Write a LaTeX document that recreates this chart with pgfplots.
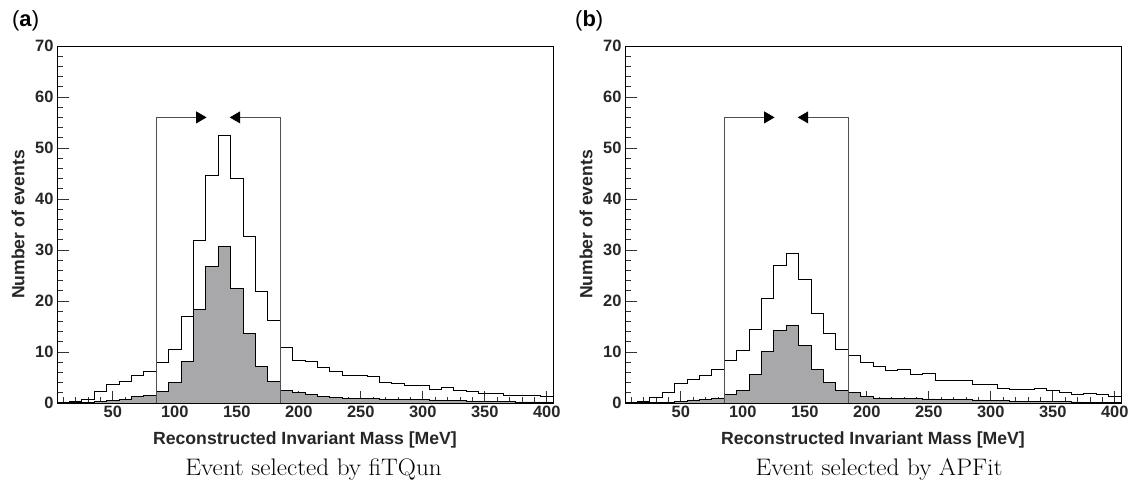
\documentclass[border=0pt]{standalone}
\usepackage{pgfplots}
\pgfplotsset{compat=1.18}
\usepackage{pgfplotstable}
\usepackage{fontspec}
\usetikzlibrary{arrows.meta}
\newfontfamily\arial{Liberation Sans}
\definecolor{histgray}{RGB}{168,168,170}
\definecolor{boxgray}{RGB}{80,80,80}

\pgfplotstableread{
x open filled
5 0.2 0.05
15 0.3 0.1
25 0.7 0.15
35 2.2 0.25
45 3.7 0.45
55 4.2 0.7
65 5.4 1.2
75 6.1 1.5
85 8.0 2.2
95 10.5 4.0
105 16.9 8.1
115 31.8 18.4
125 44.6 26.8
135 52.5 30.7
145 44.1 22.5
155 32.7 13.7
165 21.8 7.1
175 16.1 4.2
185 11.0 2.5
195 8.4 2.0
205 8.2 1.7
215 7.0 1.2
225 6.1 1.1
235 5.5 0.9
245 5.4 0.95
255 5.2 0.85
265 4.1 0.65
275 3.9 0.7
285 3.5 0.75
295 3.5 0.7
305 2.7 0.6
315 3.1 0.5
325 2.5 0.45
335 2.2 0.4
345 1.9 0.4
355 1.8 0.25
365 1.5 0.25
375 1.5 0.2
385 1.4 0.2
395 1.2 0.2
405 1.2 0.2
}\dataA

\pgfplotstableread{
x open filled
5 0.1 0.05
15 0.4 0.05
25 1.1 0.1
35 2.1 0.1
45 3.9 0.3
55 4.6 0.6
65 5.5 0.7
75 6.5 1.0
85 8.4 1.7
95 10.3 2.5
105 14.4 5.6
115 20.5 10.1
125 26.9 14.2
135 29.3 15.2
145 24.3 11.2
155 17.6 6.5
165 13.6 4.1
175 10.6 2.4
185 9.3 2.0
195 8.0 1.3
205 7.1 1.0
215 6.4 0.9
225 6.6 0.85
235 5.7 0.85
245 5.9 0.8
255 4.5 0.7
265 4.4 0.7
275 4.4 0.7
285 3.7 0.6
295 3.7 0.5
305 2.9 0.45
315 2.7 0.4
325 2.7 0.3
335 2.8 0.3
345 2.55 0.25
355 2.1 0.25
365 1.6 0.2
375 1.8 0.15
385 1.6 0.15
395 1.2 0.15
405 1.2 0.15
}\dataB

\pgfplotsset{
  histaxis/.style={
    scale only axis,
    width=496bp, height=357bp,
    xmin=5, xmax=405, ymin=0, ymax=70,
    xtick={50,100,...,400},
    ytick={0,10,...,70},
    minor xtick={10,20,...,400},
    minor y tick num=4,
    tick align=inside,
    xtick pos=left, ytick pos=left,
    major tick length=12bp,
    minor tick length=6bp,
    axis line style={line width=0.8bp, black},
    tick style={line width=0.8bp, black!80},
    /pgf/number format/assume math mode=true,
    tick label style={font=\arial\bfseries\fontsize{16.5}{18}\selectfont, text=black!85},
    xlabel={Reconstructed Invariant Mass [MeV]},
    ylabel={Number of events},
    every axis x label/.style={at={(axis description cs:0.5,-0.116)}, anchor=base,
      font=\arial\bfseries\fontsize{17.7}{19}\selectfont, text=black!85},
    every axis y label/.style={at={(axis description cs:-0.0786,0.5)}, anchor=center, rotate=90,
      font=\arial\bfseries\fontsize{17.7}{19}\selectfont, text=black!85},
    clip=false,
  },
  boxline/.style={boxgray, line width=0.8bp, -{Triangle[length=10.5bp,width=12bp,color=black]}},
}

\begin{document}
\begin{tikzpicture}
\useasboundingbox (0bp,-82bp) rectangle (1135bp,403bp);

\begin{axis}[histaxis, at={(57bp,0bp)}, anchor=south west]
  \addplot[const plot mark left, fill=histgray, draw=black, line width=0.8bp] table[x=x,y=filled]{\dataA} \closedcycle;
  \addplot[const plot mark left, draw=black, line width=0.8bp] table[x=x,y=open]{\dataA};
  \addplot[boxline] coordinates {(85,0) (85,56) (125.6,56)};
  \addplot[boxline] coordinates {(185,0) (185,56) (144.3,56)};
\end{axis}

\begin{axis}[histaxis, at={(625bp,0bp)}, anchor=south west]
  \addplot[const plot mark left, fill=histgray, draw=black, line width=0.8bp] table[x=x,y=filled]{\dataB} \closedcycle;
  \addplot[const plot mark left, draw=black, line width=0.8bp] table[x=x,y=open]{\dataB};
  \addplot[boxline] coordinates {(85,0) (85,56) (125.6,56)};
  \addplot[boxline] coordinates {(185,0) (185,56) (144.3,56)};
\end{axis}

\node[anchor=base west, inner sep=0pt, font=\arial\fontsize{22}{24}\selectfont] at (12bp,376bp) {(\textbf{a})};
\node[anchor=base west, inner sep=0pt, font=\arial\fontsize{22}{24}\selectfont] at (575bp,376bp) {(\textbf{b})};
\node[anchor=base, inner sep=0pt] at (313.5bp,-72bp) {\scalebox{1.05}[1]{\fontsize{24}{27}\selectfont Event selected by fiTQun}};
\node[anchor=base, inner sep=0pt] at (879bp,-72bp) {\scalebox{1.05}[1]{\fontsize{24}{27}\selectfont Event selected by APFit}};
\end{tikzpicture}
\end{document}
